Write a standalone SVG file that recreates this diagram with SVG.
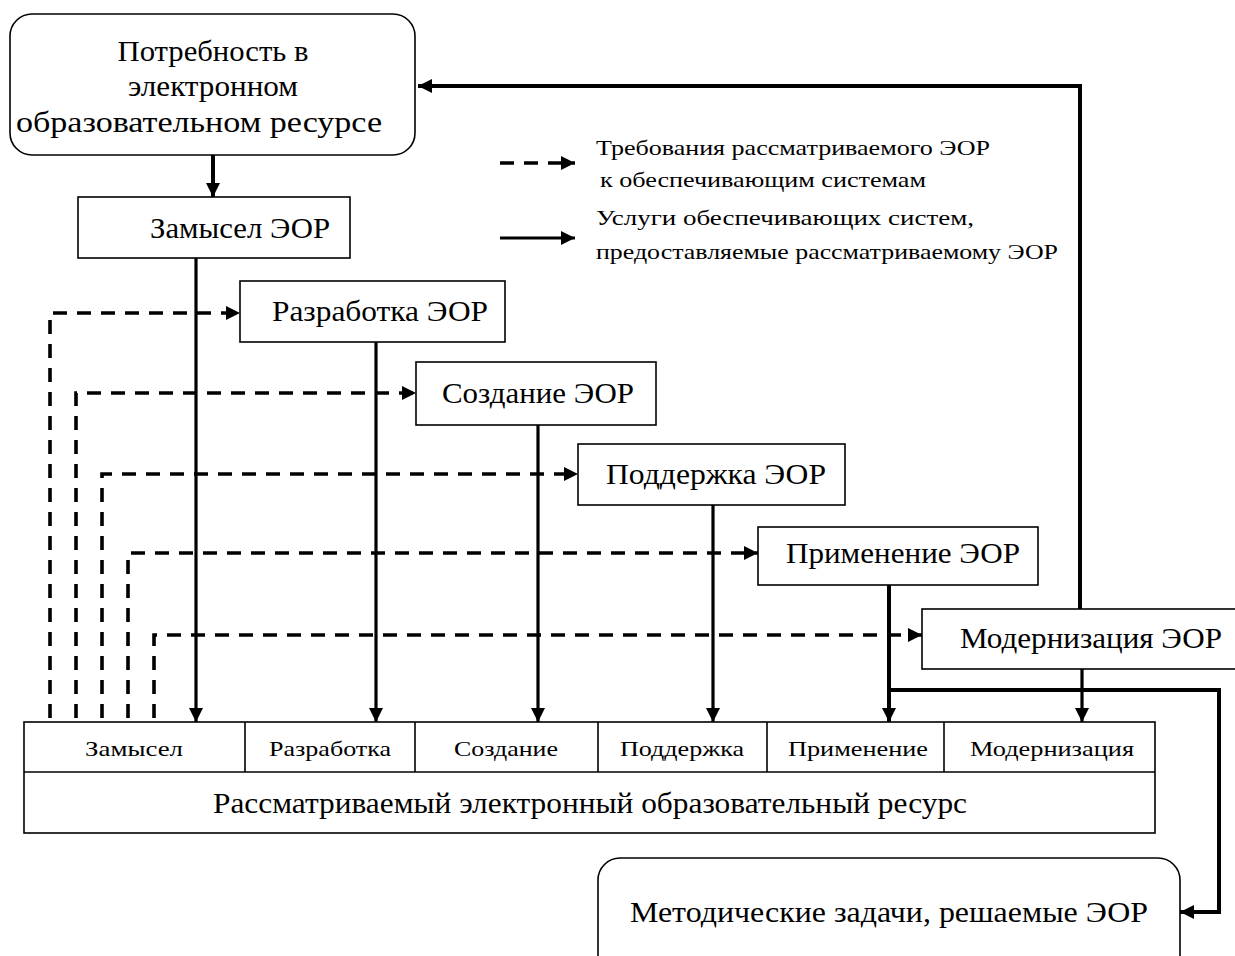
<svg xmlns="http://www.w3.org/2000/svg" width="1235" height="956" viewBox="0 0 1235 956">
<defs>
<marker id="ah" markerUnits="userSpaceOnUse" markerWidth="16" markerHeight="14" refX="14" refY="7" orient="auto"><path d="M0,0 L14,7 L0,14 Z" fill="#000"/></marker>
<style>
.box{fill:#fff;stroke:#000;stroke-width:1.6}
.t{font-family:"Liberation Serif","Times New Roman",serif;fill:#000}
.big{font-size:30px}
.mid{font-size:22px}
.c{text-anchor:middle}
.sol{fill:none;stroke:#000;stroke-width:3.2}
.thick{fill:none;stroke:#000;stroke-width:4}
.dash{fill:none;stroke:#000;stroke-width:3.6;stroke-dasharray:14 10}
</style>
</defs>
<rect width="1235" height="956" fill="#fff"/>

<g id="connectors">
<line class="thick" x1="213" y1="155" x2="213" y2="197" marker-end="url(#ah)"/>
<line class="sol" x1="196" y1="258" x2="196" y2="722" marker-end="url(#ah)"/>
<line class="sol" x1="376" y1="342" x2="376" y2="722" marker-end="url(#ah)"/>
<line class="sol" x1="538" y1="425" x2="538" y2="722" marker-end="url(#ah)"/>
<line class="sol" x1="713" y1="505" x2="713" y2="722" marker-end="url(#ah)"/>
<line class="thick" x1="889" y1="585" x2="889" y2="722" marker-end="url(#ah)"/>
<line class="sol" x1="1082" y1="669" x2="1082" y2="722" marker-end="url(#ah)"/>
<polyline class="thick" points="1080,609 1080,86 418,86" marker-end="url(#ah)"/>
<polyline class="thick" points="889,690 1219,690 1219,912 1180,912" marker-end="url(#ah)"/>
<polyline class="dash" points="50,718 50,313 240,313" marker-end="url(#ah)"/>
<polyline class="dash" points="76,718 76,393 416,393" marker-end="url(#ah)"/>
<polyline class="dash" points="102,718 102,474 578,474" marker-end="url(#ah)"/>
<polyline class="dash" points="128,718 128,553 758,553" marker-end="url(#ah)"/>
<polyline class="dash" points="154,718 154,635 922,635" marker-end="url(#ah)"/>
<line class="dash" x1="500" y1="163" x2="575" y2="163" marker-end="url(#ah)"/>
<line class="sol" x1="500" y1="238" x2="575" y2="238" marker-end="url(#ah)"/>
</g>

<g id="legend">
<text class="t mid" x="596" y="155" textLength="394" lengthAdjust="spacingAndGlyphs">Требования рассматриваемого ЭОР</text>
<text class="t mid" x="600" y="187" textLength="326" lengthAdjust="spacingAndGlyphs">к обеспечивающим системам</text>
<text class="t mid" x="596" y="225" textLength="378" lengthAdjust="spacingAndGlyphs">Услуги обеспечивающих систем,</text>
<text class="t mid" x="596" y="259" textLength="462" lengthAdjust="spacingAndGlyphs">предоставляемые рассматриваемому ЭОР</text>
</g>

<g id="need">
<rect class="box" x="10" y="14" width="405" height="141" rx="22"/>
<text class="t big c" x="213" y="61" textLength="191" lengthAdjust="spacingAndGlyphs">Потребность в</text>
<text class="t big c" x="213" y="96" textLength="170" lengthAdjust="spacingAndGlyphs">электронном</text>
<text class="t big c" x="199" y="132" textLength="366" lengthAdjust="spacingAndGlyphs">образовательном ресурсе</text>
</g>

<g id="idea">
<rect class="box" x="78" y="197" width="272" height="61"/>
<text class="t big" x="150" y="238" textLength="180" lengthAdjust="spacingAndGlyphs">Замысел ЭОР</text>
</g>
<g id="dev">
<rect class="box" x="240" y="281" width="265" height="61"/>
<text class="t big" x="272" y="321" textLength="216" lengthAdjust="spacingAndGlyphs">Разработка ЭОР</text>
</g>
<g id="create">
<rect class="box" x="416" y="362" width="240" height="63"/>
<text class="t big" x="442" y="403" textLength="192" lengthAdjust="spacingAndGlyphs">Создание ЭОР</text>
</g>
<g id="support">
<rect class="box" x="578" y="444" width="267" height="61"/>
<text class="t big" x="606" y="484" textLength="220" lengthAdjust="spacingAndGlyphs">Поддержка ЭОР</text>
</g>
<g id="use">
<rect class="box" x="758" y="527" width="280" height="58"/>
<text class="t big" x="786" y="563" textLength="234" lengthAdjust="spacingAndGlyphs">Применение ЭОР</text>
</g>
<g id="modern">
<rect class="box" x="922" y="609" width="320" height="60"/>
<text class="t big" x="960" y="648" textLength="262" lengthAdjust="spacingAndGlyphs">Модернизация ЭОР</text>
</g>

<g id="resource">
<rect class="box" x="24" y="722" width="1131" height="111"/>
<line class="box" x1="24" y1="772" x2="1155" y2="772"/>
<text class="t big c" x="590" y="813" textLength="754" lengthAdjust="spacingAndGlyphs">Рассматриваемый электронный образовательный ресурс</text>
</g>
<g id="cell-idea">
<line class="box" x1="245" y1="722" x2="245" y2="772"/>
<text class="t mid c" x="134" y="756" textLength="98" lengthAdjust="spacingAndGlyphs">Замысел</text>
</g>
<g id="cell-dev">
<line class="box" x1="415" y1="722" x2="415" y2="772"/>
<text class="t mid c" x="330" y="756" textLength="122" lengthAdjust="spacingAndGlyphs">Разработка</text>
</g>
<g id="cell-create">
<line class="box" x1="598" y1="722" x2="598" y2="772"/>
<text class="t mid c" x="506" y="756" textLength="104" lengthAdjust="spacingAndGlyphs">Создание</text>
</g>
<g id="cell-support">
<line class="box" x1="767" y1="722" x2="767" y2="772"/>
<text class="t mid c" x="682" y="756" textLength="124" lengthAdjust="spacingAndGlyphs">Поддержка</text>
</g>
<g id="cell-use">
<line class="box" x1="944" y1="722" x2="944" y2="772"/>
<text class="t mid c" x="858" y="756" textLength="140" lengthAdjust="spacingAndGlyphs">Применение</text>
</g>
<g id="cell-modern">
<text class="t mid c" x="1052" y="756" textLength="164" lengthAdjust="spacingAndGlyphs">Модернизация</text>
</g>

<g id="tasks">
<rect class="box" x="598" y="858" width="582" height="130" rx="22"/>
<text class="t big c" x="889" y="922" textLength="518" lengthAdjust="spacingAndGlyphs">Методические задачи, решаемые ЭОР</text>
</g>
</svg>
